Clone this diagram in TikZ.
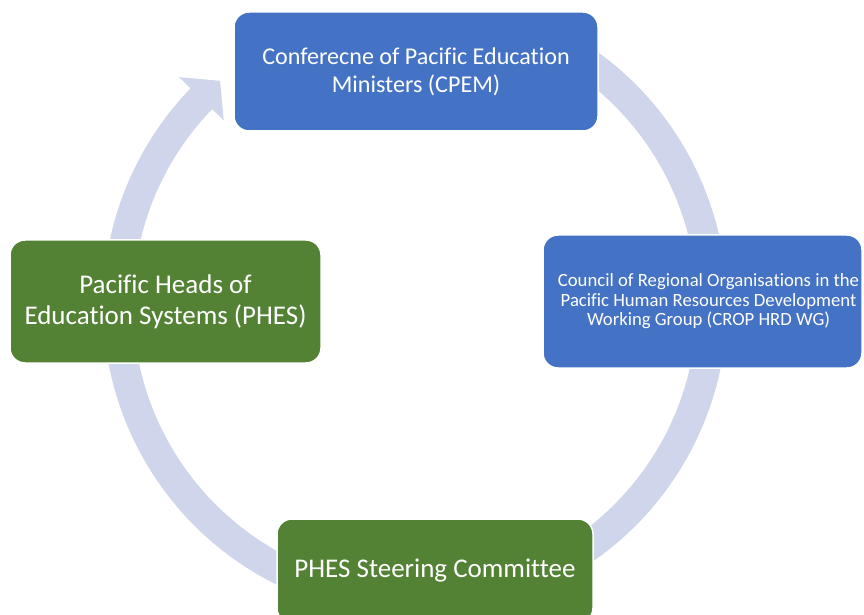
\documentclass[tikz,border=0pt]{standalone}
\usepackage{fontspec}
\setmainfont{Carlito}[Ligatures=NoCommon]
\usetikzlibrary{calc}
\begin{document}
\begin{tikzpicture}[x=1pt,y=1pt,
  stage/.style={rounded corners=15pt, draw=white, line width=1.5pt,
    text=white, align=center, inner sep=0pt},
  bluestage/.style={stage, fill=cpemblue},
  greenstage/.style={stage, fill=phesgreen}]
\definecolor{cpemblue}{HTML}{4472C4}
\definecolor{phesgreen}{HTML}{548235}
\definecolor{ringcol}{HTML}{CFD5EA}
\useasboundingbox (0,0) rectangle (864,614);
\clip (0,0) rectangle (864,614);
\coordinate (c) at (415,309);
% circular arrow running clockwise round the four stages
\fill[ringcol] ($(c)+(65:312)$) arc[start angle=65, end angle=-224, radius=312]
  -- ($(c)+(136:328)$) -- ($(c)+(131:297)$) -- ($(c)+(136:266)$)
  -- ($(c)+(136:282)$) arc[start angle=-224, end angle=65, radius=282] -- cycle;
% stages
\node[bluestage, minimum width=364pt, minimum height=119pt,
  font=\fontsize{24.1}{27.7}\selectfont] (cpem) at (416,542.5)
  {Conferecne of Pacific Education\\Ministers (CPEM)};
\node[bluestage, minimum width=319pt, minimum height=133pt] (crop) at (702.5,312.5) {};
\node[text=white, align=center, inner sep=0pt,
  font=\fontsize{18.7}{19.5}\selectfont] (croptext) at ($(crop.center)+(6,0)$)
  {Council of Regional Organisations in the\\Pacific Human Resources Development\\Working Group (CROP HRD WG)};
\node[greenstage, minimum width=316pt, minimum height=104pt,
  font=\fontsize{27}{31}\selectfont] (steer) at (435,43)
  {PHES Steering Committee};
\node[greenstage, minimum width=311pt, minimum height=123pt,
  font=\fontsize{27}{31}\selectfont] (phes) at (165.5,312.5)
  {Pacific Heads of\\Education Systems (PHES)};
\end{tikzpicture}
\end{document}
